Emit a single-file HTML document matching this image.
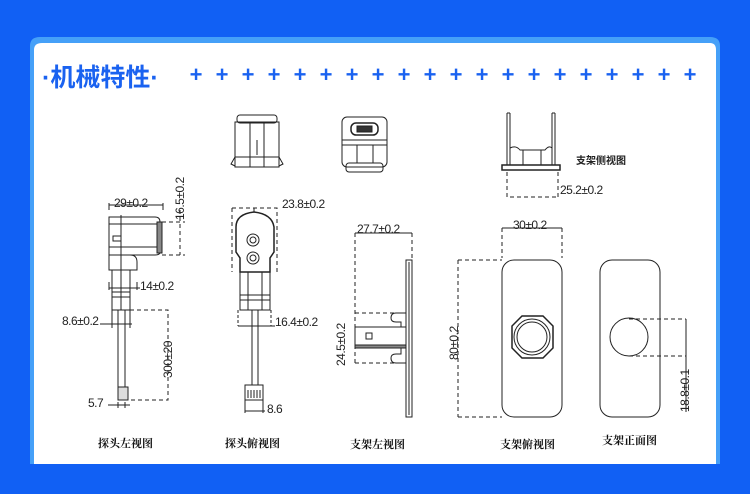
<!DOCTYPE html>
<html><head><meta charset="utf-8"><style>
html,body{margin:0;padding:0;width:750px;height:494px;overflow:hidden;background:#1160f4;}
svg{display:block}
</style></head><body>
<svg width="750" height="494" viewBox="0 0 750 494" xmlns="http://www.w3.org/2000/svg" font-family="Liberation Sans, Noto Sans CJK SC, sans-serif">
<rect x="0" y="0" width="750" height="494" fill="#1160f4"/>
<path d="M30 464 V46 Q30 37 40 37 H710 Q720 37 720 46 V464 Z" fill="#45a0f8"/>
<path d="M34 464 V50 Q34 43 42 43 H710 Q716 43 716 50 V464 Z" fill="#fff"/>
<text x="42" y="86" font-size="25" font-weight="bold" fill="#1a62f0" font-family="Liberation Sans, Noto Sans CJK SC, sans-serif">·机械特性·</text>
<g fill="#1a62f0" font-size="22" font-weight="bold" text-anchor="middle">
<text x="196" y="82">+</text><text x="222" y="82">+</text><text x="248" y="82">+</text><text x="274" y="82">+</text><text x="300" y="82">+</text>
<text x="326" y="82">+</text><text x="352" y="82">+</text><text x="378" y="82">+</text><text x="404" y="82">+</text><text x="430" y="82">+</text>
<text x="456" y="82">+</text><text x="482" y="82">+</text><text x="508" y="82">+</text><text x="534" y="82">+</text><text x="560" y="82">+</text>
<text x="586" y="82">+</text><text x="612" y="82">+</text><text x="638" y="82">+</text><text x="664" y="82">+</text><text x="690" y="82">+</text>
</g>
<g stroke="#222" stroke-width="1" fill="none">
<rect x="237" y="115" width="40" height="8" rx="3"/>
<rect x="235" y="122" width="44" height="45"/>
<line x1="250" y1="122" x2="250" y2="167"/><line x1="264" y1="122" x2="264" y2="167"/>
<line x1="257" y1="140" x2="257" y2="155"/>
<line x1="235" y1="157" x2="279" y2="157"/>
<path d="M235 157 L231 164 L235 166 M279 157 L283 164 L279 166"/>
<rect x="342" y="117" width="45" height="50" rx="5"/>
<rect x="351" y="123" width="27" height="12" rx="5" stroke-width="1.5"/>
<rect x="357" y="126" width="15" height="6" fill="#333"/>
<line x1="342" y1="140" x2="387" y2="140"/><line x1="342" y1="145" x2="387" y2="145"/>
<line x1="357" y1="145" x2="357" y2="163"/><line x1="373" y1="145" x2="373" y2="163"/>
<rect x="346" y="163" width="37" height="9" rx="3"/>
<path d="M507 113 V165 M510 113 V165 M552 113 V165 M555 113 V165 M507 113 h3 M552 113 h3"/>
<path d="M510 148 Q516 145 520 150 H545 Q549 145 552 148"/>
<line x1="523" y1="150" x2="523" y2="165"/><line x1="541" y1="150" x2="541" y2="165"/>
<rect x="502" y="165" width="58" height="5" stroke-width="1.5"/>
<path d="M507 172 V197 H558 M558 172 V197" stroke-dasharray="4,3"/>
</g>
<g fill="#222">
<text x="576" y="164" font-size="10" font-weight="bold">支架侧视图</text>
<text x="560" y="194" font-size="12" letter-spacing="-0.5">25.2±0.2</text>
</g>
<g stroke="#222" stroke-width="1" fill="none">
<path d="M109 217 H155 Q160 217 160 222 V252 Q160 255 155 255 H109 Z"/>
<line x1="109" y1="224" x2="157" y2="224"/>
<line x1="109" y1="247" x2="157" y2="247"/>
<rect x="157" y="222" width="5" height="31" fill="#888"/>
<rect x="113" y="236" width="8" height="5"/>
<path d="M109 255 V270 H137 V262 Q137 255 130 255"/>
<rect x="112" y="270" width="18" height="40"/>
<line x1="112" y1="292" x2="130" y2="292"/><line x1="112" y1="297" x2="130" y2="297"/>
<line x1="121" y1="215" x2="121" y2="310"/>
<rect x="118" y="310" width="7" height="77"/>
<rect x="118" y="387" width="10" height="13" fill="#ddd"/>
<path d="M109 203 V210 M163 203 V210 M109 205 H163"/>
<path d="M162 222 H185 M162 255 H185 M180 210 V255" stroke-dasharray="4,3"/>
<path d="M109 282 V290 M137 282 V290 M109 288 H140" />
<path d="M112 310 V328 M130 310 V328 M100 324 H132"/>
<path d="M130 310 H168 V400 H128" stroke-dasharray="4,3"/>
<path d="M108 405 H130 M118 402 V408 M125 402 V408"/>
</g>
<g font-size="12" fill="#222" letter-spacing="-0.5">
<text x="114" y="207">29±0.2</text>
<text transform="translate(184,220) rotate(-90)">16.5±0.2</text>
<text x="140" y="290">14±0.2</text>
<text x="62" y="325">8.6±0.2</text>
<text transform="translate(172,378) rotate(-90)">300±20</text>
<text x="88" y="407">5.7</text>
</g>
<g stroke="#222" stroke-width="1" fill="none">
<path d="M240 272 V258 L236 252 V227 Q236 214 254 212 Q272 214 274 227 V252 L270 258 V272 Z" stroke-width="1.5"/>
<line x1="254" y1="208" x2="254" y2="212"/>
<circle cx="253" cy="240" r="6"/><circle cx="253" cy="240" r="3"/>
<circle cx="253" cy="258" r="6"/><circle cx="253" cy="258" r="3"/>
<rect x="240" y="272" width="30" height="38"/>
<line x1="248" y1="272" x2="248" y2="310"/><line x1="262" y1="272" x2="262" y2="310"/>
<line x1="240" y1="295" x2="270" y2="295"/><line x1="240" y1="300" x2="270" y2="300"/>
<line x1="252" y1="310" x2="252" y2="385"/><line x1="258" y1="310" x2="258" y2="385"/>
<rect x="245" y="385" width="18" height="15"/>
<path d="M248 390 V398 M251 390 V398 M254 390 V398 M257 390 V398 M260 390 V398"/>
<path d="M232 208 H277 V272 M232 208 V272" stroke-dasharray="4,3"/>
<path d="M238 310 V326 M271 310 V326" stroke-dasharray="3,2"/>
<path d="M238 326 H275 M245 400 V413 M263 400 V413 M245 411 H265"/>
</g>
<g font-size="12" fill="#222" letter-spacing="-0.5">
<text x="282" y="208">23.8±0.2</text>
<text x="275" y="326">16.4±0.2</text>
<text x="267" y="413">8.6</text>
</g>
<g stroke="#222" stroke-width="1" fill="none">
<rect x="406" y="260" width="6" height="157"/>
<line x1="409" y1="262" x2="409" y2="415"/>
<rect x="355" y="327" width="51" height="21"/>
<rect x="355" y="345" width="51" height="3" fill="#888"/>
<rect x="366" y="333" width="6" height="6"/>
<path d="M406 313 H396 Q391 313 391 318 Q391 322 396 322 H401 V327 M406 363 H396 Q391 363 391 358 Q391 354 396 354 H401 V348"/>
<path d="M355 233 V363 M412 233 V258 M355 313 H394 M355 363 H394" stroke-dasharray="4,3"/>
<path d="M355 233 H412"/>
</g>
<g font-size="12" fill="#222" letter-spacing="-0.5">
<text x="357" y="233">27.7±0.2</text>
<text transform="translate(345,366) rotate(-90)">24.5±0.2</text>
</g>
<g stroke="#222" stroke-width="1" fill="none">
<rect x="502" y="260" width="60" height="157" rx="12"/>
<path d="M522 316 H543 L553 326 V348 L543 358 H522 L512 348 V326 Z" stroke-width="1.5"/>
<circle cx="532" cy="337" r="15"/>
<circle cx="532" cy="337" r="18"/>
<path d="M458 260 V417 M458 260 H502 M458 417 H502 M502 228 V258 M562 228 V258" stroke-dasharray="4,3"/>
<path d="M502 228 H562"/>
</g>
<g font-size="12" fill="#222" letter-spacing="-0.5">
<text x="513" y="229">30±0.2</text>
<text transform="translate(458,360) rotate(-90)">80±0.2</text>
</g>
<g stroke="#222" stroke-width="1" fill="none">
<rect x="600" y="260" width="60" height="157" rx="12"/>
<circle cx="629" cy="337" r="19"/>
<path d="M629 319 H686 M629 356 H686" stroke-dasharray="4,3"/>
<path d="M686 319 V412"/>
</g>
<text transform="translate(689,412) rotate(-90)" font-size="12" letter-spacing="-0.5" fill="#222">18.8±0.1</text>
<g font-size="11" fill="#111" font-weight="bold" font-family="Liberation Serif, Noto Serif CJK SC, serif">
<text x="98" y="447">探头左视图</text>
<text x="225" y="447">探头俯视图</text>
<text x="350" y="448">支架左视图</text>
<text x="500" y="448">支架俯视图</text>
<text x="602" y="444">支架正面图</text>
</g>
</svg>
</body></html>
